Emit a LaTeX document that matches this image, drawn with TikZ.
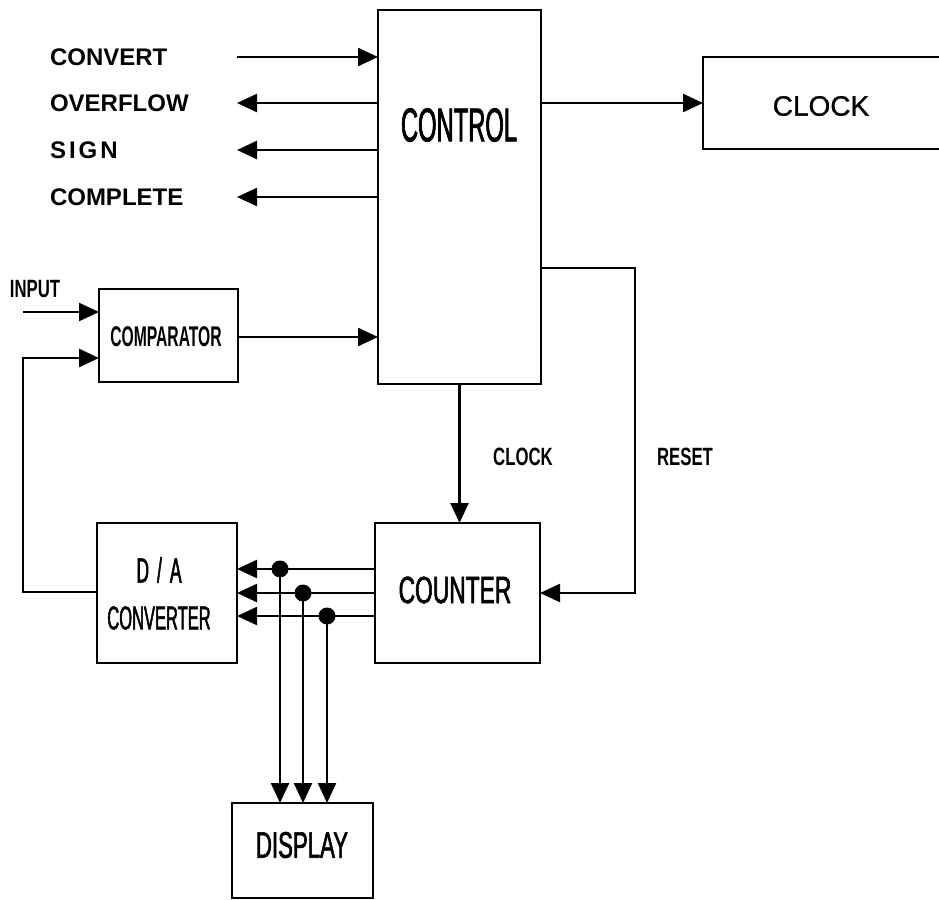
\documentclass[tikz,border=0pt]{standalone}
\usepackage{fontspec}
\setmainfont{Liberation Sans}
\newfontfamily\fA[FakeStretch=0.5,FakeBold=1.5]{Liberation Sans}
\newfontfamily\fB[FakeStretch=0.6,FakeBold=1.5]{Liberation Sans}
\newfontfamily\fC[FakeStretch=0.67]{Liberation Sans}
\newfontfamily\fD[FakeStretch=0.55]{Liberation Sans}
\newfontfamily\fE[FakeBold=1]{Liberation Sans}
\usetikzlibrary{arrows.meta}
\begin{document}
\begin{tikzpicture}[x=1pt,y=-1pt,
  blk/.style={draw, line width=2.6pt, inner sep=0pt, outer sep=0pt},
  arr/.style={line width=2.4pt, -{Triangle[length=20pt,width=18pt]}},
  txt/.style={inner sep=0pt, outer sep=0pt},
  lblw/.style={txt, font=\bfseries\fontsize{24}{26}\selectfont, anchor=west},
  lblc/.style={txt, font=\fC\bfseries\fontsize{25}{27}\selectfont},
  dot/.style={circle, fill=black, inner sep=0pt, minimum size=17pt}]
\useasboundingbox (0,0) rectangle (939,899);
\clip (0,0) rectangle (939,899);
% blocks
\node[blk, minimum width=163pt, minimum height=374pt] (control) at (459.5,197) {};
\node[txt, font=\fA\fontsize{47.5}{50}\selectfont] (controlt) at (459,125) {CONTROL};
\node[blk, minimum width=260pt, minimum height=92pt] (clock) at (833,103) {};
\node[txt, font=\fE\fontsize{28}{30}\selectfont] (clockt) at (821,106) {CLOCK};
\node[blk, minimum width=139pt, minimum height=93pt] (comp) at (168.5,335.5) {};
\node[txt, font=\fD\bfseries\fontsize{28.5}{30}\selectfont] (compt) at (166,337) {COMPARATOR};
\node[blk, minimum width=140pt, minimum height=140pt] (da) at (167,593) {};
\node[txt, font=\fA\fontsize{35}{37}\selectfont] (dat1) at (159,570) {D\kern8pt/\kern8pt A};
\node[txt, font=\fA\fontsize{33}{35}\selectfont] (dat2) at (159,618) {CONVERTER};
\node[blk, minimum width=165pt, minimum height=140pt] (counter) at (457.5,593) {};
\node[txt, font=\fB\fontsize{38}{40}\selectfont] (countert) at (455,590) {COUNTER};
\node[blk, minimum width=141pt, minimum height=95pt] (disp) at (302.5,850.5) {};
\node[txt, font=\fB\fontsize{37}{40}\selectfont] (dispt) at (302,845) {DISPLAY};
% left labels
\node[lblw] (lconv) at (50,57) {CONVERT};
\node[lblw] (lover) at (50,103) {OVERFLOW};
\node[lblw] (lsign) at (50,150) {S\kern3pt I\kern3pt G\kern3pt N};
\node[lblw] (lcomp) at (50,197) {COMPLETE};
\node[lblc] (linput) at (35,289) {INPUT};
\node[lblc] (lclk) at (523,457) {CLOCK};
\node[lblc] (lreset) at (685,457) {RESET};
% control signals
\coordinate (cvS) at (237,57);
\draw[arr] (cvS) -- (cvS -| control.west);
\coordinate (ovE) at (237,103);
\draw[arr] (ovE -| control.west) -- (ovE);
\coordinate (sgE) at (237,150);
\draw[arr] (sgE -| control.west) -- (sgE);
\coordinate (cmE) at (237,197);
\draw[arr] (cmE -| control.west) -- (cmE);
\draw[arr] (control.east |- clock.west) -- (clock.west);
% comparator
\coordinate (inS) at (23,312);
\draw[arr] (inS) -- (inS -| comp.west);
\coordinate (fbA) at (23,592);
\coordinate (fbB) at (23,358);
\draw[arr] (da.west |- fbA) -- (fbA) -- (fbB) -- (fbB -| comp.west);
\coordinate (cc) at (300,337);
\draw[arr] (comp.east |- cc) -- (cc -| control.west);
% control to counter
\draw[arr] (control.south) -- (control.south |- counter.north);
\coordinate (rA) at (635,268);
\coordinate (rB) at (635,593);
\draw[arr] (control.east |- rA) -- (rA) -- (rB) -- (counter.east |- rB);
% bus
\coordinate (b1) at (300,569);
\coordinate (b2) at (300,593);
\coordinate (b3) at (300,616);
\draw[arr] (counter.west |- b1) -- (da.east |- b1);
\draw[arr] (counter.west |- b2) -- (da.east |- b2);
\draw[arr] (counter.west |- b3) -- (da.east |- b3);
\node[dot] (d1) at (280,569) {};
\node[dot] (d2) at (303,593) {};
\node[dot] (d3) at (327,616) {};
\draw[arr] (d1.center) -- (d1.center |- disp.north);
\draw[arr] (d2.center) -- (d2.center |- disp.north);
\draw[arr] (d3.center) -- (d3.center |- disp.north);
\end{tikzpicture}
\end{document}
